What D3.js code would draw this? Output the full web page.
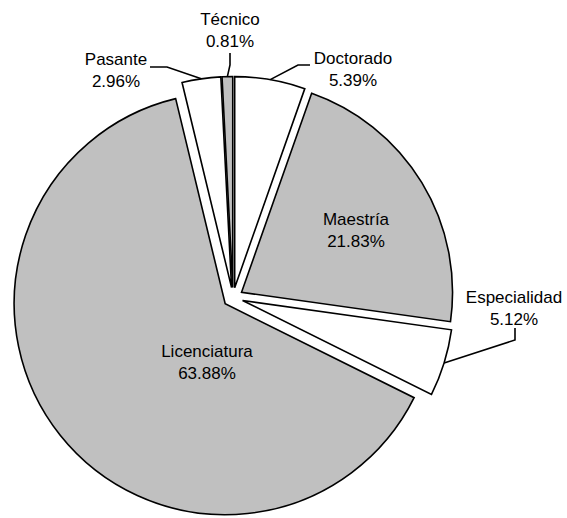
<!DOCTYPE html>
<html>
<head>
<meta charset="utf-8">
<script src="https://cdn.jsdelivr.net/npm/d3@7"></script>
<style>
  html, body { margin: 0; padding: 0; background: #fff; }
  svg text { font-family: "Liberation Sans", Arial, sans-serif; font-size: 17px; fill: #000; }
</style>
</head>
<body>
<svg id="chart" width="567" height="518"></svg>
<script>
// ---- data ----
const categories = ["Doctorado", "Maestría", "Especialidad", "Licenciatura", "Pasante", "Técnico"];
const values = [5.39, 21.83, 5.12, 63.88, 2.96, 0.81];
const labels = ["5.39%", "21.83%", "5.12%", "63.88%", "2.96%", "0.81%"];

// ---- layout / style ----
const fills = ["#ffffff", "#c0c0c0", "#ffffff", "#c0c0c0", "#ffffff", "#c0c0c0"];
const center = { x: 233, y: 297.5 };
const radius = 211;
const explode = 10;
// label anchor (center x, first baseline y) and leader elbow points (null = label inside)
const labelLayout = [
  { x: 353, y: 64, leader: [[310, 65], [298, 65]] },
  { x: 356, y: 225, leader: null },
  { x: 514, y: 303, leader: [[515, 328], [515, 340]] },
  { x: 207, y: 357, leader: null },
  { x: 116, y: 65, leader: [[150, 67], [167, 67]] },
  { x: 230, y: 25, leader: [[230, 53], [230, 65]] }
];
const lineGap = 22;

const svg = d3.select("#chart");
const pie = d3.pie().sort(null).value(d => d)(values);
const arc = d3.arc().innerRadius(0).outerRadius(radius);

const g = svg.append("g").attr("transform", `translate(${center.x},${center.y})`);

function offset(d) {
  const mid = (d.startAngle + d.endAngle) / 2;
  return [explode * Math.sin(mid), -explode * Math.cos(mid), mid];
}

g.selectAll("path.slice")
  .data(pie)
  .join("path")
  .attr("class", "slice")
  .attr("d", arc)
  .attr("transform", d => { const o = offset(d); return `translate(${o[0]},${o[1]})`; })
  .attr("fill", (d, i) => fills[i])
  .attr("stroke", "#000")
  .attr("stroke-width", 1.6)
  .attr("stroke-linejoin", "miter");

// leaders
pie.forEach((d, i) => {
  const L = labelLayout[i];
  if (!L.leader) return;
  const o = offset(d);
  const ex = center.x + o[0] + radius * Math.sin(o[2]);
  const ey = center.y + o[1] - radius * Math.cos(o[2]);
  const pts = L.leader.concat([[ex, ey]]);
  svg.append("path")
    .attr("d", d3.line()(pts))
    .attr("fill", "none")
    .attr("stroke", "#000")
    .attr("stroke-width", 1.6);
});

// labels
pie.forEach((d, i) => {
  const L = labelLayout[i];
  const t = svg.append("text").attr("text-anchor", "middle");
  t.append("tspan").attr("x", L.x).attr("y", L.y).text(categories[i]);
  t.append("tspan").attr("x", L.x).attr("y", L.y + lineGap).text(labels[i]);
});
</script>
</body>
</html>
